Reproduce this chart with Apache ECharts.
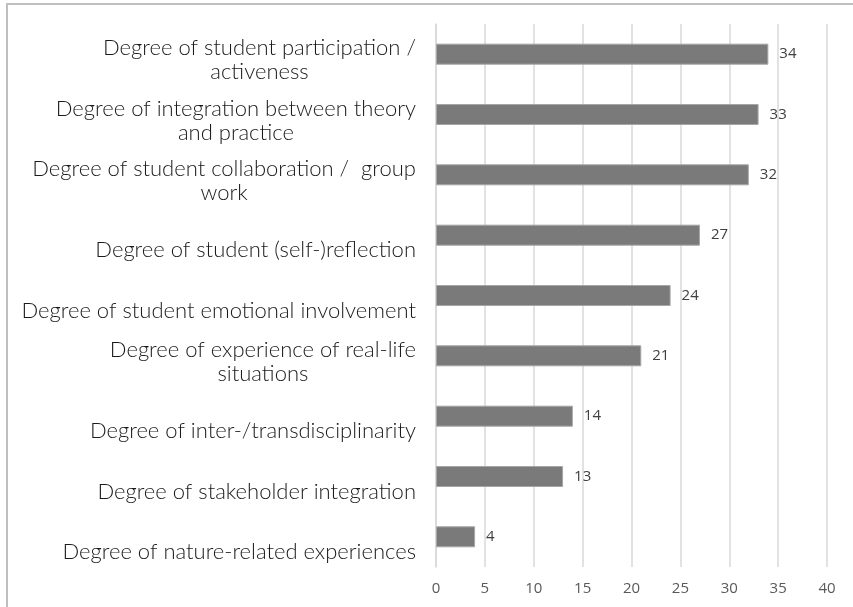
<!DOCTYPE html>
<html>
<head>
<meta charset="utf-8">
<script src="https://cdn.jsdelivr.net/npm/echarts@6/dist/echarts.min.js"></script>
<style>
  body { margin: 0; background: #fff; }
  #frame {
    position: absolute; left: 6px; top: 3px; width: 900px; height: 700px;
    border-left: 2px solid #bfbfbf; border-top: 2px solid #bfbfbf;
  }
  #main { position: absolute; left: 0; top: 0; width: 853px; height: 607px; }
</style>
</head>
<body>
<div id="frame"></div>
<div id="main"></div>
<script>
  // 类目（自上而下）
  var categories = [
    'Degree of student participation /\nactiveness',
    'Degree of integration between theory\nand practice',
    'Degree of student collaboration /  group\nwork',
    'Degree of student (self-)reflection',
    'Degree of student emotional involvement',
    'Degree of experience of real-life\nsituations',
    'Degree of inter-/transdisciplinarity',
    'Degree of stakeholder integration',
    'Degree of nature-related experiences'
  ];
  var values = [34, 33, 32, 27, 24, 21, 14, 13, 4];
  var xTicks = { min: 0, max: 40, interval: 5 };

  // 原图里标签相对柱子偏下，单行的偏得更多
  var yData = categories.map(function (c) {
    var multi = c.indexOf('\n') >= 0;
    return { value: c, textStyle: { padding: [multi ? 12 : 30, 0, 0, 0] } };
  });

  var myChart = echarts.init(document.getElementById('main'));
  myChart.setOption({
    animation: false,
    grid: { left: 436, right: 26, top: 24, bottom: 40, containLabel: false },
    xAxis: {
      type: 'value',
      min: xTicks.min,
      max: xTicks.max,
      interval: xTicks.interval,
      axisLine: { show: false },
      axisTick: { show: false },
      splitLine: { lineStyle: { color: '#d9d9d9', width: 1.5 } },
      axisLabel: { color: '#595959', fontSize: 15, margin: 14, fontFamily: 'Open Sans' }
    },
    yAxis: {
      type: 'category',
      inverse: true,
      data: yData,
      axisLine: { lineStyle: { color: '#d9d9d9', width: 1.5 } },
      axisTick: { show: false },
      axisLabel: {
        margin: 20,
        color: '#1a1a1a',
        fontSize: 22,
        fontFamily: 'Lato',
        fontWeight: 300,
        lineHeight: 24,
        align: 'right',
        formatter: function (v) {
          return v.split('\n').map(function (l) { return '{c|' + l + '}'; }).join('\n');
        },
        rich: {
          c: { fontSize: 22, fontFamily: 'Lato', fontWeight: 300, color: '#1a1a1a', lineHeight: 24, align: 'center' }
        }
      }
    },
    series: [{
      type: 'bar',
      data: values,
      barWidth: 21,
      itemStyle: { color: '#7a7a7a', borderColor: '#a6a6a6', borderWidth: 1 },
      label: {
        show: true,
        position: 'right',
        distance: 11,
        color: '#404040',
        fontSize: 15,
        fontFamily: 'Open Sans',
        padding: [4, 0, 0, 0]
      }
    }]
  });
</script>
</body>
</html>
